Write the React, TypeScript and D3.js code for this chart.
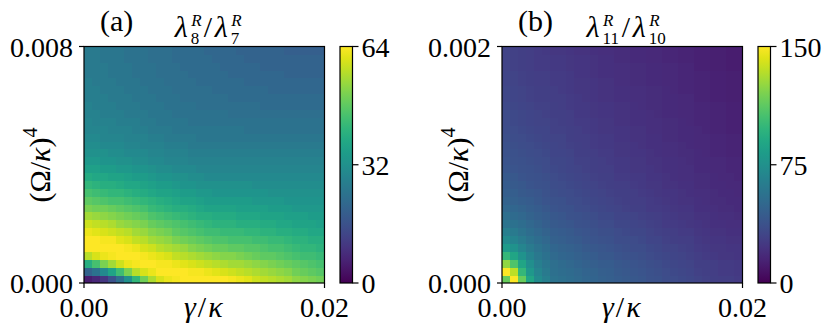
import React from 'react';
import * as d3 from 'd3';

const W = 831;
const H = 331;
const FONT = '"Liberation Serif", "Times New Roman", serif';

// γ/κ axis (both panels)
const gammaMax = 0.02;
const gammaTickLabels = ['0.00', '0.02'];

// (Ω/κ)^4 axes
const omegaMaxA = 0.008;
const omegaMaxB = 0.002;
const omegaTickLabelsA = ['0.000', '0.008'];
const omegaTickLabelsB = ['0.000', '0.002'];

// colorbar ticks
const colorTicksA = [0, 32, 64];
const colorTicksB = [0, 75, 150];

// λ8/λ7 : one array per γ column (left -> right), values from Ω=0 upward
const ratioA = [
  [5, 20, 40, 57, 64, 64, 62, 59, 55, 51, 48, 45, 42, 39, 36, 34, 32, 31, 30, 29, 29, 28, 28, 27, 27, 27, 26, 26, 26, 26],
  [7, 24, 45, 60, 64, 64, 61, 58, 54, 50, 47, 44, 41, 38, 36, 34, 32, 31, 30, 29, 28, 28, 27, 27, 27, 26, 26, 26, 26, 26],
  [10, 30, 51, 62, 64, 63, 60, 57, 53, 50, 46, 43, 40, 38, 35, 33, 32, 30, 29, 29, 28, 27, 27, 27, 26, 26, 26, 26, 25, 25],
  [16, 37, 55, 63, 64, 63, 59, 56, 52, 49, 45, 42, 40, 37, 35, 33, 31, 30, 29, 28, 28, 27, 27, 26, 26, 26, 25, 25, 25, 25],
  [23, 44, 59, 64, 64, 61, 58, 54, 51, 48, 45, 42, 39, 37, 34, 32, 31, 30, 29, 28, 27, 27, 26, 26, 26, 25, 25, 25, 25, 25],
  [32, 51, 62, 64, 63, 60, 57, 53, 50, 47, 44, 41, 38, 36, 34, 32, 30, 29, 28, 28, 27, 26, 26, 26, 25, 25, 25, 25, 24, 24],
  [42, 57, 63, 64, 62, 58, 55, 52, 49, 46, 43, 40, 38, 35, 33, 31, 30, 29, 28, 27, 27, 26, 26, 25, 25, 25, 24, 24, 24, 24],
  [50, 60, 64, 63, 60, 57, 54, 51, 48, 45, 42, 39, 37, 35, 33, 31, 30, 28, 28, 27, 26, 26, 25, 25, 25, 24, 24, 24, 24, 24],
  [56, 62, 64, 62, 59, 55, 52, 49, 46, 43, 41, 38, 36, 34, 32, 30, 29, 28, 27, 26, 26, 25, 25, 25, 24, 24, 24, 24, 23, 23],
  [60, 64, 63, 61, 57, 54, 51, 48, 45, 42, 40, 37, 35, 33, 31, 30, 29, 28, 27, 26, 25, 25, 25, 24, 24, 24, 23, 23, 23, 23],
  [62, 64, 63, 60, 56, 53, 50, 47, 44, 41, 39, 37, 35, 33, 31, 29, 28, 27, 26, 26, 25, 25, 24, 24, 24, 23, 23, 23, 23, 23],
  [63, 64, 62, 58, 55, 51, 48, 46, 43, 40, 38, 36, 34, 32, 30, 29, 28, 27, 26, 25, 25, 24, 24, 24, 23, 23, 23, 23, 22, 22],
  [64, 64, 61, 57, 54, 50, 47, 45, 42, 40, 37, 35, 33, 32, 30, 29, 28, 27, 26, 25, 25, 24, 24, 23, 23, 23, 23, 22, 22, 22],
  [64, 63, 60, 56, 52, 49, 46, 44, 41, 39, 37, 35, 33, 31, 30, 28, 27, 26, 26, 25, 24, 24, 24, 23, 23, 23, 22, 22, 22, 22],
  [64, 63, 59, 55, 51, 48, 45, 43, 40, 38, 36, 34, 32, 31, 29, 28, 27, 26, 25, 25, 24, 24, 23, 23, 23, 22, 22, 22, 22, 22],
  [64, 62, 58, 54, 50, 47, 44, 42, 40, 37, 35, 34, 32, 30, 29, 28, 27, 26, 25, 25, 24, 24, 23, 23, 23, 22, 22, 22, 22, 21],
  [64, 61, 57, 53, 49, 46, 44, 41, 39, 37, 35, 33, 32, 30, 29, 28, 27, 26, 25, 25, 24, 24, 23, 23, 22, 22, 22, 22, 21, 21],
  [64, 60, 56, 52, 49, 46, 43, 41, 39, 37, 35, 33, 32, 30, 29, 28, 27, 26, 25, 25, 24, 24, 23, 23, 22, 22, 22, 21, 21, 21],
  [63, 59, 55, 52, 48, 45, 43, 41, 39, 37, 35, 33, 32, 30, 29, 28, 27, 26, 25, 25, 24, 23, 23, 22, 22, 22, 21, 21, 21, 21],
  [62, 58, 55, 51, 48, 45, 43, 40, 38, 36, 35, 33, 32, 30, 29, 28, 27, 26, 25, 25, 24, 23, 23, 22, 22, 22, 21, 21, 21, 20],
  [61, 57, 54, 50, 47, 45, 42, 40, 38, 36, 35, 33, 32, 30, 29, 28, 27, 26, 25, 24, 24, 23, 23, 22, 22, 21, 21, 21, 20, 20],
  [59, 56, 53, 49, 47, 44, 42, 40, 38, 36, 34, 33, 31, 30, 29, 28, 27, 26, 25, 24, 24, 23, 23, 22, 22, 21, 21, 21, 20, 20],
  [58, 55, 52, 48, 46, 44, 41, 39, 37, 36, 34, 33, 31, 30, 29, 28, 27, 26, 25, 24, 24, 23, 22, 22, 22, 21, 21, 20, 20, 20],
  [57, 54, 51, 48, 45, 43, 41, 39, 37, 35, 34, 32, 31, 30, 29, 28, 27, 26, 25, 24, 24, 23, 22, 22, 21, 21, 21, 20, 20, 20],
  [56, 53, 50, 47, 45, 43, 40, 38, 37, 35, 34, 32, 31, 30, 29, 28, 27, 26, 25, 24, 24, 23, 22, 22, 21, 21, 21, 20, 20, 20],
  [55, 52, 49, 46, 44, 42, 40, 38, 36, 35, 33, 32, 31, 30, 29, 28, 27, 26, 25, 24, 24, 23, 22, 22, 21, 21, 20, 20, 20, 19],
  [53, 50, 48, 45, 43, 41, 39, 37, 36, 34, 33, 32, 31, 30, 29, 28, 27, 26, 25, 24, 24, 23, 22, 22, 21, 21, 20, 20, 20, 19],
  [52, 49, 47, 44, 42, 41, 39, 37, 36, 34, 33, 32, 31, 30, 29, 28, 27, 26, 25, 24, 24, 23, 22, 22, 21, 21, 20, 20, 20, 19],
  [51, 48, 46, 44, 42, 40, 38, 37, 35, 34, 33, 32, 31, 30, 29, 28, 27, 26, 25, 24, 24, 23, 22, 22, 21, 21, 20, 20, 20, 19],
  [50, 47, 45, 43, 41, 40, 38, 36, 35, 34, 33, 32, 31, 30, 29, 28, 27, 26, 25, 24, 24, 23, 22, 22, 21, 21, 20, 20, 20, 19],
];

// λ11/λ10 : same layout
const ratioB = [
  [115, 150, 125, 100, 82, 72, 64, 58, 54, 50, 47, 45, 43, 42, 40, 39, 38, 37, 36, 35, 34, 34, 33, 32, 32, 31, 31, 30, 30, 30],
  [150, 135, 108, 88, 76, 67, 61, 56, 52, 49, 46, 44, 42, 41, 39, 38, 37, 36, 35, 34, 33, 33, 32, 31, 31, 30, 30, 29, 29, 29],
  [115, 100, 88, 77, 68, 62, 57, 53, 50, 47, 44, 42, 41, 39, 38, 37, 36, 35, 34, 33, 32, 32, 31, 30, 30, 29, 29, 28, 28, 28],
  [88, 80, 74, 67, 62, 57, 53, 50, 47, 45, 43, 41, 39, 38, 37, 36, 35, 34, 33, 32, 31, 31, 30, 29, 29, 28, 28, 27, 27, 27],
  [72, 68, 64, 60, 57, 53, 50, 47, 45, 43, 41, 40, 38, 37, 36, 35, 34, 33, 32, 31, 30, 30, 29, 28, 28, 27, 27, 26, 26, 26],
  [64, 61, 59, 56, 53, 50, 47, 44, 43, 41, 39, 38, 37, 36, 34, 34, 33, 32, 31, 31, 30, 29, 29, 28, 28, 27, 27, 26, 26, 25],
  [57, 55, 54, 51, 49, 46, 44, 42, 41, 39, 38, 36, 35, 34, 33, 32, 31, 31, 30, 29, 29, 28, 28, 27, 27, 26, 26, 25, 25, 24],
  [55, 53, 52, 49, 47, 45, 43, 41, 40, 38, 37, 35, 34, 33, 32, 32, 31, 30, 30, 29, 28, 28, 27, 27, 26, 26, 26, 25, 25, 24],
  [53, 52, 50, 48, 46, 43, 42, 40, 38, 37, 35, 34, 33, 32, 31, 31, 30, 29, 28, 28, 27, 27, 26, 26, 25, 25, 25, 24, 24, 23],
  [51, 50, 48, 46, 44, 42, 40, 38, 37, 35, 34, 33, 32, 31, 30, 29, 28, 28, 27, 27, 26, 25, 25, 25, 24, 24, 23, 23, 23, 22],
  [49, 48, 46, 44, 42, 40, 39, 37, 36, 34, 33, 32, 31, 30, 29, 29, 28, 27, 27, 26, 26, 25, 25, 24, 24, 24, 23, 23, 23, 22],
  [48, 47, 45, 43, 41, 39, 38, 36, 35, 33, 32, 31, 30, 29, 28, 28, 27, 26, 26, 25, 25, 24, 24, 23, 23, 23, 22, 22, 22, 21],
  [46, 45, 43, 41, 40, 38, 36, 34, 33, 32, 31, 30, 29, 28, 27, 27, 26, 25, 25, 24, 24, 23, 23, 22, 22, 22, 21, 21, 21, 20],
  [45, 44, 43, 41, 39, 37, 36, 34, 33, 31, 30, 29, 28, 28, 27, 26, 26, 25, 25, 24, 24, 23, 23, 22, 22, 22, 21, 21, 21, 20],
  [43, 42, 41, 39, 37, 35, 34, 32, 31, 30, 29, 28, 27, 26, 25, 25, 24, 24, 23, 23, 22, 22, 22, 21, 21, 20, 20, 20, 19, 19],
  [42, 41, 40, 38, 36, 35, 33, 32, 31, 29, 28, 28, 27, 26, 25, 25, 24, 24, 23, 23, 22, 22, 22, 21, 21, 20, 20, 20, 19, 19],
  [41, 40, 39, 37, 35, 34, 32, 31, 30, 28, 27, 27, 26, 25, 24, 24, 23, 23, 22, 22, 21, 21, 21, 20, 20, 19, 19, 19, 18, 18],
  [40, 39, 38, 36, 35, 33, 32, 30, 29, 28, 27, 26, 25, 25, 24, 24, 23, 22, 22, 22, 21, 21, 20, 20, 20, 19, 19, 19, 18, 18],
  [38, 37, 36, 34, 33, 31, 30, 29, 28, 26, 26, 25, 24, 23, 23, 22, 22, 21, 21, 20, 20, 20, 19, 19, 19, 18, 18, 18, 17, 17],
  [37, 36, 35, 33, 32, 31, 29, 28, 27, 26, 25, 24, 24, 23, 22, 22, 21, 21, 21, 20, 20, 19, 19, 19, 19, 18, 18, 18, 17, 17],
  [35, 34, 33, 32, 30, 29, 28, 26, 26, 25, 24, 23, 22, 22, 21, 21, 20, 20, 19, 19, 19, 18, 18, 18, 18, 17, 17, 17, 16, 16],
  [34, 33, 32, 31, 30, 28, 27, 26, 25, 24, 23, 23, 22, 21, 21, 21, 20, 20, 19, 19, 19, 18, 18, 18, 17, 17, 17, 17, 16, 16],
  [33, 32, 31, 30, 29, 27, 26, 25, 24, 23, 22, 22, 21, 20, 20, 20, 19, 19, 18, 18, 18, 17, 17, 17, 16, 16, 16, 16, 15, 15],
  [32, 31, 30, 29, 28, 27, 26, 24, 24, 23, 22, 21, 21, 20, 20, 19, 19, 18, 18, 18, 17, 17, 17, 17, 16, 16, 16, 16, 15, 15],
  [30, 29, 28, 27, 26, 25, 24, 23, 22, 21, 21, 20, 19, 19, 18, 18, 18, 17, 17, 17, 16, 16, 16, 15, 15, 15, 15, 14, 14, 14],
  [29, 28, 28, 26, 25, 24, 23, 22, 22, 21, 20, 20, 19, 19, 18, 18, 17, 17, 17, 16, 16, 16, 16, 15, 15, 15, 15, 14, 14, 14],
  [28, 27, 27, 25, 24, 23, 22, 21, 21, 20, 19, 19, 18, 18, 17, 17, 16, 16, 16, 15, 15, 15, 15, 14, 14, 14, 14, 13, 13, 13],
  [27, 26, 26, 24, 24, 23, 22, 21, 20, 19, 19, 18, 18, 17, 17, 17, 16, 16, 16, 15, 15, 15, 15, 14, 14, 14, 14, 13, 13, 13],
  [27, 26, 26, 24, 23, 22, 21, 20, 20, 19, 18, 18, 17, 17, 16, 16, 15, 15, 15, 14, 14, 14, 14, 13, 13, 13, 13, 12, 12, 12],
  [26, 25, 25, 23, 23, 22, 21, 20, 19, 18, 18, 17, 17, 16, 16, 16, 15, 15, 15, 14, 14, 14, 14, 13, 13, 13, 13, 12, 12, 12],
];

const PLOT_TOP = 46.5;
const PLOT_BOTTOM = 283;
const PLOT_W = 240.5;

// ratio title λ_{sub1}^R / λ_{sub2}^R built from separate pieces
const RatioTitle = ({ cx, sub1, sub2 }: { cx: number; sub1: string; sub2: string }) => {
  const lam = 16;
  const subW = (s: string) => Math.max(s.length * 8.6, 11);
  const w1 = lam + subW(sub1) + 2;
  const wSlash = 11;
  const w2 = lam + subW(sub2);
  let x = cx - (w1 + wSlash + w2) / 2 + 2;
  const parts: JSX.Element[] = [];
  [sub1, sub2].forEach((s, k) => {
    parts.push(<text key={`l${k}`} x={x} y={37} fontSize={30} fontStyle="italic">λ</text>);
    parts.push(<text key={`s${k}`} x={x + lam} y={44} fontSize={17}>{s}</text>);
    parts.push(<text key={`r${k}`} x={x + lam + 0.5} y={26} fontSize={17} fontStyle="italic">R</text>);
    x += lam + subW(s) + 2;
    if (k === 0) {
      parts.push(<text key="slash" x={x} y={37} fontSize={30}>/</text>);
      x += wSlash;
    }
  });
  return <g>{parts}</g>;
};

type PanelProps = {
  id: string;
  left: number;
  data: number[][];
  vmax: number;
  omegaMax: number;
  omegaTicks: string[];
  colorTicks: number[];
  tag: string;
  sub1: string;
  sub2: string;
};

const Panel = ({ id, left, data, vmax, omegaMax, omegaTicks, colorTicks, tag, sub1, sub2 }: PanelProps) => {
  const x = d3.scaleLinear().domain([0, gammaMax]).range([left, left + PLOT_W]);
  const y = d3.scaleLinear().domain([0, omegaMax]).range([PLOT_BOTTOM, PLOT_TOP]);
  const color = d3.scaleSequential(d3.interpolateViridis).domain([0, vmax]);
  const nx = data.length;
  const ny = data[0].length;
  const dx = gammaMax / nx;
  const dy = omegaMax / ny;

  const cbLeft = left + PLOT_W + 15.5;
  const cbW = 12.5;
  const cy = d3.scaleLinear().domain([0, vmax]).range([PLOT_BOTTOM, PLOT_TOP]);
  const stops = d3.range(0, 1.0001, 0.05);

  const cx = left + PLOT_W / 2;

  return (
    <g>
      <defs>
        <linearGradient id={`cb-${id}`} x1="0" y1="1" x2="0" y2="0">
          {stops.map(t => (
            <stop key={t} offset={t} stopColor={d3.interpolateViridis(t)} />
          ))}
        </linearGradient>
      </defs>

      {/* heatmap cells */}
      <g shapeRendering="crispEdges">
        {data.map((col, i) =>
          col.map((v, j) => (
            <rect
              key={`${i}-${j}`}
              x={x(i * dx)}
              y={y((j + 1) * dy)}
              width={x((i + 1) * dx) - x(i * dx) + 0.4}
              height={y(j * dy) - y((j + 1) * dy) + 0.4}
              fill={color(v)}
            />
          ))
        )}
      </g>
      <rect x={left} y={PLOT_TOP} width={PLOT_W} height={PLOT_BOTTOM - PLOT_TOP}
        fill="none" stroke="#000" strokeWidth={1.2} />

      {/* y ticks */}
      {omegaTicks.map((t, k) => {
        const yy = y(k * omegaMax);
        return (
          <g key={t}>
            <line x1={left - 5} x2={left} y1={yy} y2={yy} stroke="#000" strokeWidth={1.2} />
            <text x={left - 11} y={yy + 10} textAnchor="end" fontSize={28}>{t}</text>
          </g>
        );
      })}

      {/* x ticks */}
      {gammaTickLabels.map((t, k) => {
        const xx = x(k * gammaMax);
        return (
          <g key={t}>
            <line x1={xx} x2={xx} y1={PLOT_BOTTOM} y2={PLOT_BOTTOM + 5} stroke="#000" strokeWidth={1.2} />
            <text x={xx} y={317} textAnchor="middle" fontSize={28}>{t}</text>
          </g>
        );
      })}

      {/* axis labels */}
      <text x={cx} y={317} textAnchor="middle" fontSize={30} letterSpacing={2}>
        <tspan fontStyle="italic">γ</tspan>/<tspan fontStyle="italic">κ</tspan>
      </text>
      <text transform={`translate(${left - 34},165) rotate(-90)`} textAnchor="middle" fontSize={30}>
        (Ω/<tspan fontStyle="italic">κ</tspan>)<tspan fontSize={20} dy={-13}>4</tspan>
      </text>

      {/* panel tag and title */}
      <text x={left + 16} y={31} fontSize={30}>{tag}</text>
      <RatioTitle cx={cx + 2} sub1={sub1} sub2={sub2} />

      {/* colorbar */}
      <rect x={cbLeft} y={PLOT_TOP} width={cbW} height={PLOT_BOTTOM - PLOT_TOP}
        fill={`url(#cb-${id})`} stroke="#000" strokeWidth={1.2} />
      {colorTicks.map(t => (
        <g key={t}>
          <line x1={cbLeft + cbW} x2={cbLeft + cbW + 6} y1={cy(t)} y2={cy(t)} stroke="#000" strokeWidth={1.2} />
          <text x={cbLeft + cbW + 9} y={cy(t) + 10} fontSize={28}>{t}</text>
        </g>
      ))}
    </g>
  );
};

export default function App() {
  return (
    <svg width={W} height={H} style={{ position: 'absolute', left: 0, top: 0, background: '#fff' }}
      fontFamily={FONT}>
      <Panel id="a" left={84} data={ratioA} vmax={64} omegaMax={omegaMaxA}
        omegaTicks={omegaTickLabelsA} colorTicks={colorTicksA} tag="(a)" sub1="8" sub2="7" />
      <Panel id="b" left={502} data={ratioB} vmax={150} omegaMax={omegaMaxB}
        omegaTicks={omegaTickLabelsB} colorTicks={colorTicksB} tag="(b)" sub1="11" sub2="10" />
    </svg>
  );
}
